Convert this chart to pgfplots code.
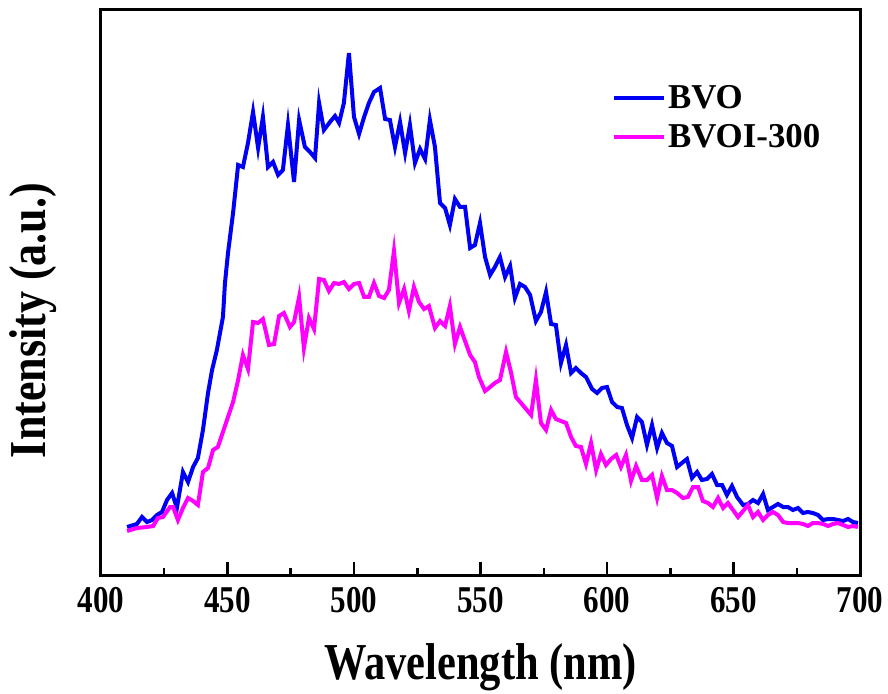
\documentclass[border=0pt]{standalone}
\usepackage{fontspec}
\setmainfont{Liberation Serif}[FakeStretch=0.82]
\newfontfamily\widefont{Liberation Serif}
\newfontfamily\yfont{Liberation Serif}[FakeStretch=0.85]
\usepackage{pgfplots}
\pgfplotsset{compat=1.18}
\definecolor{bvo}{RGB}{0,0,245}
\definecolor{bvoi}{RGB}{255,0,255}
\begin{document}
\begin{tikzpicture}
\begin{axis}[
  scale only axis, width=759bp, height=565bp,
  xmin=400, xmax=700, ymin=0, ymax=565,
  xtick={400,450,500,550,600,650,700},
  minor x tick num=1,
  ytick=\empty,
  xtick pos=lower,
  tick align=inside,
  major tick length=13bp, minor tick length=7bp,
  axis line style={line width=3bp, black},
  every tick/.style={line width=2.5bp, black},
  /pgf/number format/assume math mode=true,
  ticklabel style={font=\bfseries\fontsize{38}{40}\selectfont},
  xticklabel style={yshift=-9bp},
  xlabel={Wavelength (nm)},
  ylabel={Intensity (a.u.)},
  xlabel style={font=\bfseries\fontsize{52}{60}\selectfont, yshift=-24bp},
  ylabel style={font=\yfont\bfseries\fontsize{52}{60}\selectfont, yshift=41bp, xshift=-28bp},
  legend style={draw=none, fill=none, at={(0.673,0.81)}, anchor=west,
    font=\widefont\bfseries\fontsize{35}{38}\selectfont, inner sep=0pt,
    row sep=11bp, nodes={inner sep=2bp}},
  legend cell align=left,
  legend image code/.code={\draw[#1] (0bp,0bp) -- (50bp,0bp);},
  /tikz/every even column/.append style={column sep=6bp},
]
\addplot[bvo, line width=4bp] coordinates {
(410.3,48)(414.2,51)(416.2,58)(418.2,53)(420.2,55)(422.1,60)(424.1,63)(426.1,75)(428.1,82)(430.0,67)
(432.4,103)(434.4,93)(436.4,108)(438.3,117)(440.3,145)(442.3,182)(443.9,205)(445.8,225)(448.2,258)(449.0,292)
(450.2,322)(452.2,362)(454.2,410)(456.1,408)(458.1,432)(460.1,463)(462.1,427)(464.0,458)(466.0,408)(468.0,413)
(470.0,400)(471.9,405)(473.9,450)(476.3,393)(478.3,455)(480.6,428)(482.6,423)(484.6,417)(486.2,472)(488.1,445)
(490.5,453)(492.5,459)(494.1,452)(496.0,472)(498.0,522)(500.0,458)(502.0,441)(504.0,458)(505.9,472)(507.9,483)
(510.3,487)(512.3,456)(514.2,455)(516.2,428)(518.2,453)(520.2,422)(522.1,450)(524.1,412)(526.1,426)(528.1,416)
(530.0,455)(532.0,428)(534.0,372)(536.0,367)(537.9,350)(539.9,376)(541.9,368)(543.9,368)(545.9,327)(547.8,330)
(549.8,352)(551.8,318)(553.8,300)(555.7,308)(557.7,318)(559.7,298)(561.7,309)(563.6,277)(565.6,291)(567.6,288)
(569.6,280)(571.9,254)(573.9,263)(575.9,283)(577.9,251)(579.8,250)(581.8,212)(583.8,230)(585.8,202)(587.7,207)
(589.7,202)(591.7,198)(594.1,186)(596.1,182)(598.0,187)(600.0,188)(602.0,173)(604.0,168)(605.9,167)(607.9,150)
(609.9,137)(611.9,158)(613.8,153)(615.8,130)(617.8,150)(619.8,127)(621.7,142)(623.7,132)(625.7,129)(627.7,108)
(629.6,112)(631.6,116)(633.6,97)(635.6,103)(637.5,95)(639.5,96)(641.5,101)(643.5,90)(645.5,90)(647.4,80)
(649.4,89)(651.4,78)(653.8,70)(655.7,71)(657.7,75)(659.7,72)(661.7,81)(663.6,65)(665.6,68)(667.6,71)
(669.6,68)(671.5,68)(673.5,65)(675.5,67)(677.5,62)(679.4,63)(681.4,62)(683.4,60)(685.4,55)(687.4,56)
(689.3,56)(691.3,55)(693.3,54)(695.3,56)(697.2,53)(699.2,52)
};
\addlegendentry{BVO}
\addplot[bvoi, line width=4bp] coordinates {
(410.3,44)(414.2,47)(418.2,48)(420.6,49)(422.5,57)(424.5,58)(427.3,68)(428.5,68)(430.4,55)(432.4,67)
(434.4,77)(436.4,74)(438.3,70)(440.3,103)(442.3,107)(444.3,125)(446.2,128)(448.2,143)(450.2,158)(452.2,173)
(454.2,195)(456.1,220)(458.1,206)(460.1,253)(462.1,252)(464.0,256)(466.4,230)(468.4,231)(470.4,259)(472.3,262)
(474.7,248)(476.3,253)(478.3,278)(480.2,227)(482.2,257)(484.2,246)(486.2,296)(488.1,295)(490.1,284)(492.1,292)
(494.1,291)(496.0,293)(498.0,286)(500.0,291)(502.0,292)(504.0,278)(505.9,278)(507.9,292)(509.9,279)(511.9,277)
(513.8,285)(515.8,324)(517.8,272)(519.8,286)(521.7,264)(523.7,288)(525.7,273)(527.7,266)(529.6,269)(532.0,247)
(534.0,254)(536.0,249)(537.9,269)(539.9,231)(541.9,248)(543.9,234)(545.9,220)(547.8,213)(549.4,198)(551.8,184)
(553.8,188)(555.7,192)(557.7,195)(560.1,223)(562.1,202)(564.0,178)(566.0,172)(568.0,166)(570.0,160)(571.9,195)
(573.9,152)(575.9,145)(577.9,165)(579.8,156)(581.8,154)(583.8,152)(585.8,138)(587.7,129)(589.7,128)(591.7,111)
(593.7,132)(595.7,105)(597.6,121)(599.6,110)(601.6,116)(603.6,120)(605.5,108)(607.5,120)(609.5,94)(611.5,109)
(613.8,95)(615.8,95)(617.8,100)(619.8,77)(621.7,99)(623.7,85)(625.7,85)(627.7,82)(630.0,77)(632.0,78)
(634.0,88)(636.0,88)(637.9,74)(639.9,72)(641.9,68)(643.9,77)(645.9,67)(647.8,72)(649.8,65)(651.8,58)
(653.8,64)(655.7,70)(657.7,58)(659.7,63)(661.7,55)(663.6,60)(665.6,63)(667.6,60)(669.6,53)(671.5,52)
(673.5,52)(675.5,52)(677.5,51)(679.4,49)(681.4,52)(683.4,52)(685.4,51)(687.4,49)(689.3,51)(691.3,52)
(693.3,50)(695.3,48)(697.2,49)(699.2,48)
};
\addlegendentry{BVOI-300}
\end{axis}
\pgfresetboundingbox
\path[use as bounding box] (-101bp,-119bp) rectangle (787bp,575bp);
\end{tikzpicture}
\end{document}
